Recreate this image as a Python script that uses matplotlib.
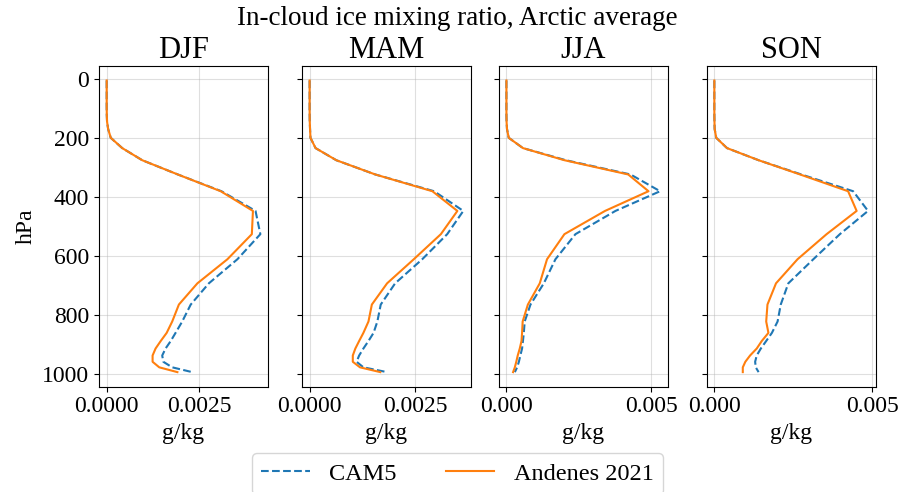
import matplotlib
matplotlib.use("Agg")
import matplotlib.pyplot as plt
from matplotlib.ticker import MaxNLocator

plt.rcParams['font.family'] = ['Liberation Serif', 'DejaVu Serif']
plt.rcParams['font.size'] = 17

# model pressure levels (hPa)
levels = [3.6, 7.6, 14.4, 24.6, 38.3, 54.6, 72.0, 87.8, 103.3, 121.5,
          142.9, 168.2, 197.9, 232.8, 273.9, 322.2, 379.1, 445.9, 524.7, 609.8,
          691.4, 763.4, 820.9, 859.5, 887.0, 912.6, 936.2, 957.5, 976.3, 992.6]

seasons = ['DJF', 'MAM', 'JJA', 'SON']

# in-cloud ice mixing ratio (g/kg)
cam5_djf = [0, 0, 0, 0, 0, 0, 0, 0, 0.000001, 0.000003,
            0.00001, 0.00004, 0.00011, 0.00042, 0.00096, 0.00192, 0.0031, 0.00402, 0.00415, 0.00353,
            0.00276, 0.00227, 0.00204, 0.00186, 0.00173, 0.00159, 0.0015, 0.00153, 0.00177, 0.00231]
and_djf = [0, 0, 0, 0, 0, 0, 0, 0, 0.000001, 0.000003,
           0.00001, 0.00004, 0.00011, 0.00042, 0.00096, 0.00192, 0.00308, 0.00395, 0.00392, 0.00326,
           0.00245, 0.00195, 0.00177, 0.00162, 0.00146, 0.00132, 0.00124, 0.00124, 0.00142, 0.00191]

cam5_mam = [0, 0, 0, 0, 0, 0, 0, 0, 0, 0.000001,
            0.000003, 0.00001, 0.00002, 0.00014, 0.00063, 0.00155, 0.00294, 0.00363, 0.00325, 0.00266,
            0.00202, 0.00168, 0.0016, 0.00151, 0.00139, 0.00127, 0.00117, 0.00111, 0.00127, 0.00183]
and_mam = [0, 0, 0, 0, 0, 0, 0, 0, 0, 0.000001,
           0.000003, 0.00001, 0.00002, 0.00014, 0.00063, 0.00155, 0.0029, 0.00349, 0.0031, 0.00246,
           0.00183, 0.00147, 0.00139, 0.00127, 0.00117, 0.00108, 0.00102, 0.00102, 0.00119, 0.00167]

cam5_jja = [0, 0, 0, 0, 0, 0, 0, 0, 0, 0.000001,
            0.000005, 0.00002, 0.00008, 0.00057, 0.00205, 0.00428, 0.0053, 0.00376, 0.00238, 0.00169,
            0.00129, 0.00083, 0.00063, 0.0006, 0.00057, 0.00054, 0.00048, 0.00043, 0.00037, 0.00029]
and_jja = [0, 0, 0, 0, 0, 0, 0, 0, 0, 0.000001,
           0.000005, 0.00002, 0.00008, 0.00057, 0.002, 0.0042, 0.0049, 0.0034, 0.002, 0.0014,
           0.00115, 0.00074, 0.00056, 0.00054, 0.00052, 0.00046, 0.00039, 0.00034, 0.00029, 0.00023]

cam5_son = [0, 0, 0, 0, 0, 0, 0, 0, 0, 0.000001,
            0.000004, 0.00001, 0.00006, 0.0004, 0.0014, 0.00275, 0.00439, 0.00486, 0.00397, 0.00313,
            0.00234, 0.0021, 0.002, 0.00182, 0.00164, 0.00147, 0.00134, 0.00129, 0.00131, 0.0014]
and_son = [0, 0, 0, 0, 0, 0, 0, 0, 0, 0.000001,
           0.000004, 0.00001, 0.00006, 0.0004, 0.0014, 0.00271, 0.00423, 0.0045, 0.00355, 0.00263,
           0.00195, 0.00168, 0.00164, 0.00171, 0.0015, 0.00134, 0.00113, 0.00098, 0.0009, 0.0009]

cam5 = [cam5_djf, cam5_mam, cam5_jja, cam5_son]
andenes = [and_djf, and_mam, and_jja, and_son]

fig, axs = plt.subplots(1, 4, figsize=(9.04, 4.92), dpi=100, sharey=True)

lefts = [0.1095, 0.334, 0.5517, 0.7817]
for i, ax in enumerate(axs):
    ax.set_position([lefts[i], 0.214, 0.187, 0.652])
    ax.plot(cam5[i], levels, '--', color='tab:blue', label='CAM5')
    ax.plot(andenes[i], levels, '-', color='tab:orange', label='Andenes 2021')
    ax.set_title(seasons[i], fontsize=22)
    ax.set_xlabel('g/kg')
    ax.xaxis.set_major_locator(MaxNLocator(2, steps=[1, 2.5, 5, 10]))
    ax.grid(alpha=0.4)

axs[0].invert_yaxis()
axs[0].set_ylabel('hPa')

fig.suptitle('In-cloud ice mixing ratio, Arctic average', x=0.506, y=0.988, fontsize=19.5)

handles, labels = axs[0].get_legend_handles_labels()
fig.legend(handles, labels, ncol=2, loc='upper center', fontsize=17.5,
           bbox_to_anchor=(0.506, 1 - 453/492), borderaxespad=0)

fig.savefig('out.png', dpi=100)
